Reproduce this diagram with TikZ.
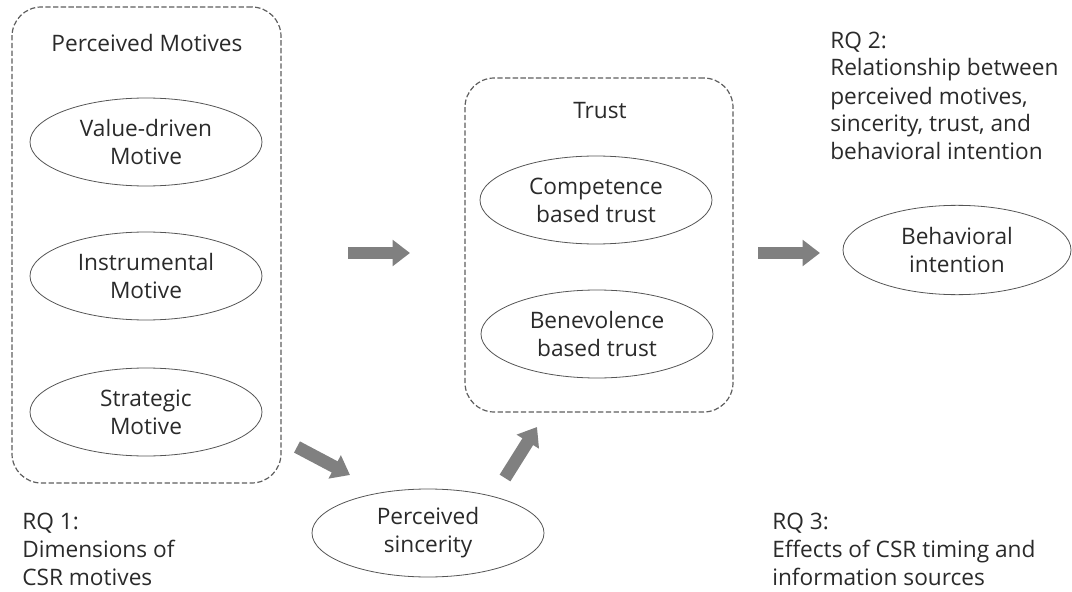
\documentclass[tikz,border=0pt]{standalone}
\usepackage{fontspec}
\setmainfont{Open Sans}
\usetikzlibrary{arrows.meta,shapes.geometric}
\definecolor{txt}{HTML}{2A2A2A}
\definecolor{boxline}{HTML}{5E5E5E}
\definecolor{arrowgray}{HTML}{808080}
\tikzset{
  dashbox/.style={draw=boxline, line width=0.9pt, dash pattern=on 4pt off 1.8pt, rounded corners=22pt, inner sep=0pt},
  oval/.style={ellipse, draw=txt!80, line width=0.6pt, inner sep=0pt, minimum width=174pt, minimum height=66pt, align=center, text=txt, font=\fontsize{17}{21}\selectfont},
  lbl/.style={text=txt, font=\fontsize{17}{21}\selectfont, inner sep=0pt},
  rq/.style={lbl, anchor=base west, align=left},
  blockarrow/.style={draw=arrowgray, line width=9.5pt, -{Triangle[width=19pt,length=13pt]}, arrowgray}
}
\begin{document}
\begin{tikzpicture}[x=0.75pt,y=-0.75pt]
\useasboundingbox (0,0) rectangle (1072,592);
% containers
\node[dashbox, minimum width=201.75pt, minimum height=357pt] (motives) at (146.5,245) {};
\node[dashbox, minimum width=201pt, minimum height=250.5pt] (trust) at (599,245) {};
% titles
\node[lbl] (ptitle) at (147,43) {Perceived Motives};
\node[lbl] (ttitle) at (600,111) {Trust};
% ellipses
\node[oval] (value) at (146,142) {Value-driven\\Motive};
\node[oval] (instr) at (146,276) {Instrumental\\Motive};
\node[oval] (strat) at (146,412) {Strategic\\Motive};
\node[oval] (comp) at (596,200) {Competence\\based trust};
\node[oval] (bene) at (597,334) {Benevolence\\based trust};
\node[oval, minimum width=171pt, minimum height=67pt] (behav) at (957,250) {Behavioral\\intention};
\node[oval] (sinc) at (428,533) {Perceived\\sincerity};
% RQ texts (anchor = baseline of last line)
\node[rq] (rq1) at (22,585) {RQ 1:\\Dimensions of\\CSR motives};
\node[rq] (rq2) at (830,160) {RQ 2:\\Relationship between\\perceived motives,\\sincerity, trust, and\\behavioral intention};
\node[rq] (rq3) at (772,585) {RQ 3:\\Effects of CSR timing and\\information sources};
% arrow end points
\coordinate (a1s) at (348,253);
\coordinate (a1e) at (410,253);
\coordinate (a2s) at (758,253);
\coordinate (a2e) at (820,253);
\coordinate (a3s) at (297,447);
\coordinate (a3e) at (350,475);
\coordinate (a4s) at (505,478);
\coordinate (a4e) at (537,427);
\draw[blockarrow] (a1s) -- (a1e);
\draw[blockarrow] (a2s) -- (a2e);
\draw[blockarrow] (a3s) -- (a3e);
\draw[blockarrow] (a4s) -- (a4e);
\end{tikzpicture}
\end{document}
